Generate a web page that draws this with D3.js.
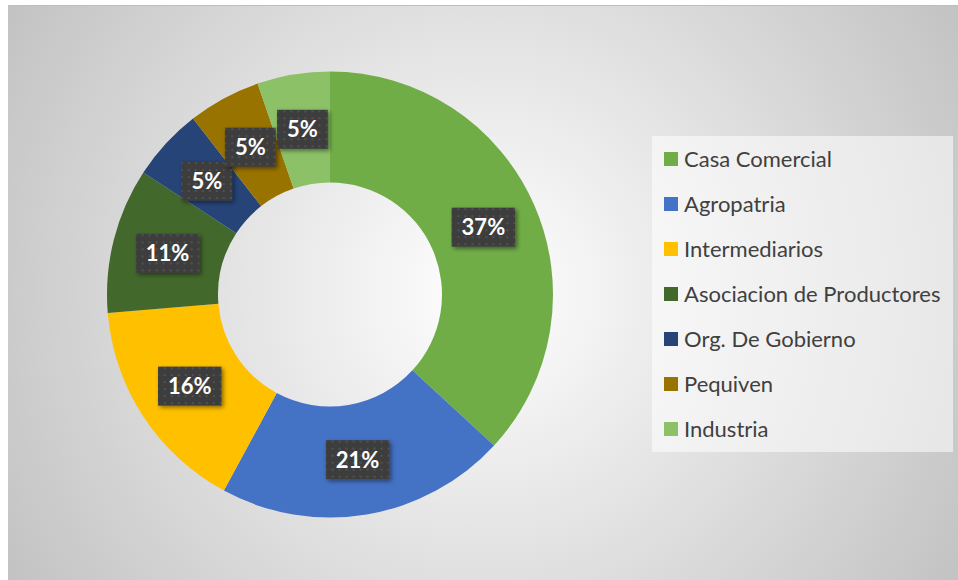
<!DOCTYPE html>
<html lang="es">
<head>
    <meta charset="UTF-8">
    <title>Donut</title>
    <script src="https://d3js.org/d3.v7.min.js"></script>
    <style>
        html, body { margin: 0; padding: 0; overflow: hidden; background: #fff; }
        svg { display: block; }
    </style>
</head>
<body>
    <svg id="chart" width="958" height="580"></svg>
    <script>
        // data (counts out of 19)
        const categories = ["Casa Comercial", "Agropatria", "Intermediarios",
            "Asociacion de Productores", "Org. De Gobierno", "Pequiven", "Industria"];
        const counts = [7, 4, 3, 2, 1, 1, 1];
        const sliceColors = ["#70ad47", "#4472c4", "#ffc000", "#43682b", "#264478", "#997300", "#8cc168"];

        const svg = d3.select("#chart");
        const defs = svg.append("defs");

        // chart area background - radial gradient
        const grad = defs.append("radialGradient")
            .attr("id", "bg")
            .attr("gradientUnits", "userSpaceOnUse")
            .attr("cx", 483).attr("cy", 292).attr("r", 560);
        grad.append("stop").attr("offset", 0).attr("stop-color", "#ffffff");
        grad.append("stop").attr("offset", 1).attr("stop-color", "#c2c2c2");

        // dotted texture for the data labels
        const pat = defs.append("pattern")
            .attr("id", "dots")
            .attr("patternUnits", "userSpaceOnUse")
            .attr("width", 7).attr("height", 7);
        pat.append("rect").attr("width", 7).attr("height", 7).attr("fill", "#3d3d3d");
        pat.append("rect").attr("x", 2).attr("y", 2).attr("width", 2).attr("height", 2).attr("fill", "#515151");

        const shadow = defs.append("filter").attr("id", "shadow")
            .attr("x", "-30%").attr("y", "-30%").attr("width", "160%").attr("height", "160%");
        shadow.append("feDropShadow")
            .attr("dx", 2).attr("dy", 2).attr("stdDeviation", 2)
            .attr("flood-color", "#000").attr("flood-opacity", 0.45);

        svg.append("rect")
            .attr("x", 8).attr("y", 5).attr("width", 950).attr("height", 575)
            .attr("fill", "url(#bg)");
        svg.append("line")
            .attr("x1", 8).attr("x2", 958).attr("y1", 5.5).attr("y2", 5.5)
            .attr("stroke", "#bdbdbd");

        const cx = 330, cy = 294.5, outerR = 223, innerR = 112;
        const g = svg.append("g").attr("transform", `translate(${cx},${cy})`);

        const total = d3.sum(counts);
        const pie = d3.pie().sort(null).value(d => d.value);
        const arcs = pie(categories.map((c, i) => ({ name: c, value: counts[i], color: sliceColors[i] })));
        const arc = d3.arc().innerRadius(innerR).outerRadius(outerR);
        const labelArc = d3.arc().innerRadius((innerR + outerR) / 2).outerRadius((innerR + outerR) / 2);

        g.selectAll("path.slice")
            .data(arcs)
            .enter().append("path")
            .attr("class", "slice")
            .attr("d", arc)
            .attr("fill", d => d.data.color);

        // data labels
        const labels = g.selectAll("g.lbl")
            .data(arcs)
            .enter().append("g")
            .attr("class", "lbl")
            .attr("transform", d => `translate(${labelArc.centroid(d)})`);

        labels.append("text")
            .attr("text-anchor", "middle")
            .attr("dy", "0.36em")
            .attr("fill", "#ffffff")
            .style("font-family", "Lato, 'Open Sans', sans-serif")
            .style("font-weight", "bold")
            .style("font-size", "22px")
            .text(d => Math.round(d.data.value / total * 100) + "%");

        labels.each(function() {
            const grp = d3.select(this);
            const bb = grp.select("text").node().getBBox();
            const w = bb.width + 20, h = 39;
            grp.insert("rect", "text")
                .attr("x", -w / 2).attr("y", -h / 2)
                .attr("width", w).attr("height", h)
                .attr("fill", "url(#dots)")
                .attr("filter", "url(#shadow)");
        });

        // legend
        const legend = svg.append("g").attr("transform", "translate(652,136)");
        legend.append("rect")
            .attr("width", 301).attr("height", 316)
            .attr("fill", "#ffffff").attr("fill-opacity", 0.55);

        const rowY = d3.scalePoint().domain(categories).range([23, 293]);
        const items = legend.selectAll("g.item")
            .data(categories)
            .enter().append("g")
            .attr("class", "item")
            .attr("transform", d => `translate(0,${rowY(d)})`);

        items.append("rect")
            .attr("x", 12).attr("y", -7)
            .attr("width", 14).attr("height", 14)
            .attr("fill", (d, i) => sliceColors[i]);

        items.append("text")
            .attr("x", 32).attr("dy", "0.36em")
            .attr("fill", "#404040")
            .style("font-family", "Lato, 'Open Sans', sans-serif")
            .style("font-size", "22px")
            .text(d => d);
    </script>
</body>
</html>
